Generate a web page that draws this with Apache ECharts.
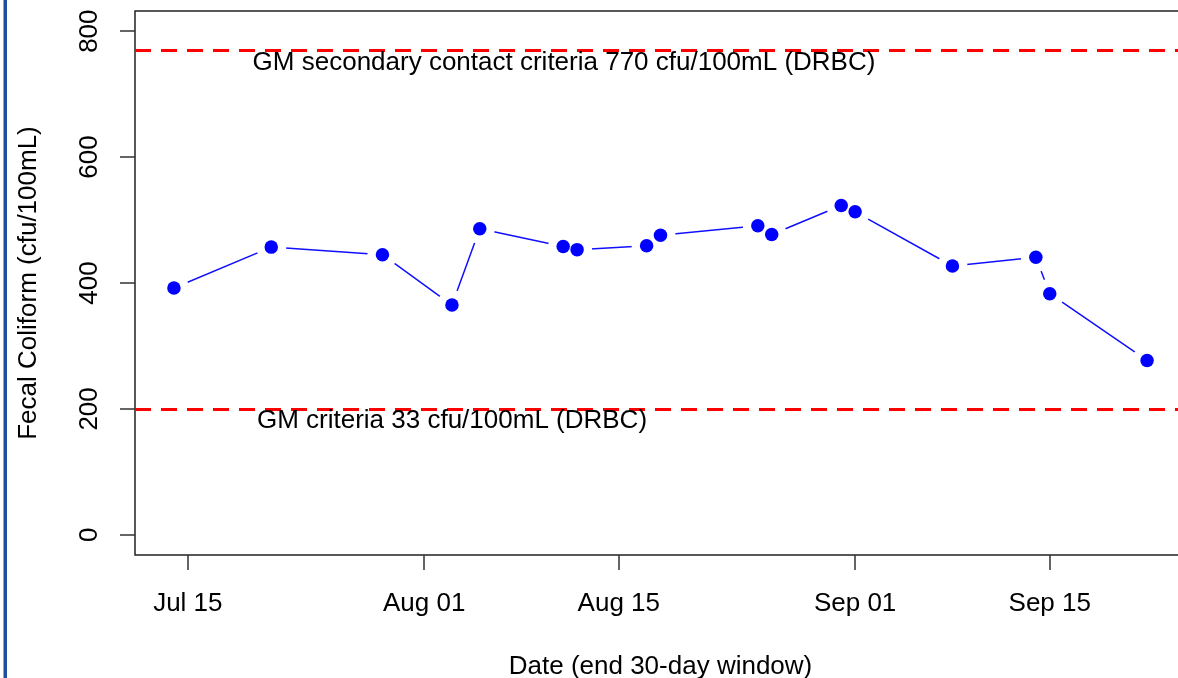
<!DOCTYPE html>
<html>
<head>
<meta charset="utf-8">
<script src="https://cdn.jsdelivr.net/npm/echarts@6/dist/echarts.min.js"></script>
<style>
html,body{margin:0;padding:0;background:#fff;}
#chart{width:1178px;height:678px;}
</style>
</head>
<body>
<div id="chart"></div>
<script>
// ---- data ----
const dates = ['2023-07-14','2023-07-21','2023-07-29','2023-08-03','2023-08-05','2023-08-11','2023-08-12',
               '2023-08-17','2023-08-18','2023-08-25','2023-08-26','2023-08-31','2023-09-01','2023-09-08',
               '2023-09-14','2023-09-15','2023-09-22'];
const values = [392,457,445,365,486,458,453,459,476,491,477,523,513,427,441,383,277];
const criteriaValues = [770, 200];
const criteriaLabels = ['GM secondary contact criteria 770 cfu/100mL (DRBC)', 'GM criteria 33 cfu/100mL (DRBC)'];
const xTickDates = ['2023-07-15','2023-08-01','2023-08-15','2023-09-01','2023-09-15'];
const xTickLabels = ['Jul 15','Aug 01','Aug 15','Sep 01','Sep 15'];
const yTicks = [0,200,400,600,800];

// ---- build ----
const ts = s => Date.parse(s + 'T00:00:00Z');
const xs = dates.map(ts);
const xMinD = Math.min(...xs), xMaxD = Math.max(...xs);
const xPad = 0.04 * (xMaxD - xMinD);
const yLo = 0, yHi = 800, yPad = 0.04 * (yHi - yLo);
const tickTs = xTickDates.map(ts);
const labelMap = {};
tickTs.forEach((t, i) => labelMap[t] = xTickLabels[i]);
const points = xs.map((x, i) => [x, values[i]]);

const FONT = 'Liberation Sans, Arial, sans-serif';
const chart = echarts.init(document.getElementById('chart'), null, {renderer: 'canvas'});
chart.setOption({
  animation: false,
  backgroundColor: '#fff',
  grid: {left: 135, top: 11, right: -8, bottom: 123, containLabel: false, outerBoundsMode: 'none',
         show: true, borderColor: '#222', borderWidth: 1.5, backgroundColor: 'transparent'},
  xAxis: {
    type: 'value', min: xMinD - xPad, max: xMaxD + xPad,
    name: 'Date (end 30-day window)', nameLocation: 'middle', nameGap: 99,
    nameTextStyle: {fontFamily: FONT, fontSize: 26, color: '#000'},
    axisLine: {show: false, onZero: false},
    splitLine: {show: false},
    axisTick: {show: true, length: 15, inside: false, customValues: tickTs, lineStyle: {color: '#333', width: 1.5}},
    axisLabel: {customValues: tickTs, margin: 36, fontFamily: FONT, fontSize: 26, color: '#000',
                formatter: v => labelMap[v] || ''}
  },
  yAxis: {
    type: 'value', min: yLo - yPad, max: yHi + yPad,
    name: 'Fecal Coliform (cfu/100mL)', nameLocation: 'middle', nameGap: 93,
    nameTextStyle: {fontFamily: FONT, fontSize: 26, color: '#000'},
    axisLine: {show: false, onZero: false},
    splitLine: {show: false},
    axisTick: {show: true, length: 15, customValues: yTicks, lineStyle: {color: '#333', width: 1.5}},
    axisLabel: {customValues: yTicks, rotate: 90, margin: 32, fontFamily: FONT, fontSize: 26, color: '#000'}
  },
  series: [
    {
      type: 'line', data: points, z: 2,
      symbol: 'circle', symbolSize: 30, showSymbol: true,
      itemStyle: {color: '#fff', borderWidth: 0, opacity: 1},
      lineStyle: {color: '#1010ff', width: 1.5},
      emphasis: {disabled: true},
      markLine: {
        silent: true, symbol: ['none','none'], label: {show: false},
        lineStyle: {color: '#ff0000', width: 3, type: [16, 10]},
        data: criteriaValues.map(v => ({yAxis: v}))
      }
    },
    {
      type: 'scatter', data: points, z: 3,
      symbol: 'circle', symbolSize: 13.5,
      itemStyle: {color: '#0000ff', opacity: 1},
      emphasis: {disabled: true}
    }
  ],
  graphic: [
    {type: 'rect', left: 3.5, top: 0, shape: {width: 3.5, height: 678}, style: {fill: '#1f4e9a'}, z: 10},
    {type: 'text', x: 564, y: 63, style: {text: criteriaLabels[0], font: '26px ' + FONT, fill: '#000', align: 'center', verticalAlign: 'middle'}, z: 10},
    {type: 'text', x: 452, y: 421, style: {text: criteriaLabels[1], font: '26px ' + FONT, fill: '#000', align: 'center', verticalAlign: 'middle'}, z: 10}
  ]
});
</script>
</body>
</html>
